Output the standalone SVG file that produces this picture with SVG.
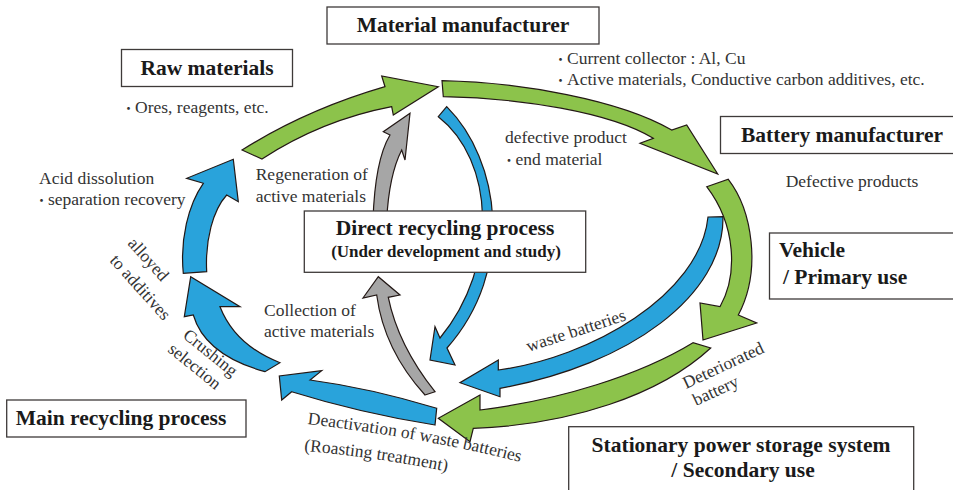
<svg xmlns="http://www.w3.org/2000/svg" width="953" height="490" viewBox="0 0 953 490">
<style>
.box{fill:#fff;stroke:#3e3a39;stroke-width:1.3}
.b{font-family:"Liberation Serif",serif;font-weight:bold;font-size:21.5px;fill:#1a1a1a}
.b2{font-family:"Liberation Serif",serif;font-weight:bold;font-size:17px;fill:#1a1a1a}
.t{font-family:"Liberation Serif","Noto Sans CJK JP",serif;font-size:17.5px;fill:#333}
.dot{font-family:"Noto Sans CJK JP","Liberation Serif",sans-serif;font-size:13px}
.ar{stroke:#231815;stroke-width:1.2;stroke-linejoin:miter}
.g{fill:#8cc34b}
.bl{fill:#29a3db}
.gr{fill:#a6a6a6}
</style>
<rect width="953" height="490" fill="#fff"/>
<defs>
<path id="p-deact" d="M307,424 Q428,438.5 520,462"/>
<path id="p-roast" d="M304,451 Q376,457 447,471.5"/>
</defs>
<g id="connectors">
<path id="arrow-raw-to-material" class="ar g" d="M242,150 Q306.5,109.5 385,86.7 L381.7,76 L438.3,86.7 L393.3,115 L391.7,106.7 Q322,120 262,159 Z"/>
<path id="arrow-material-to-battery" class="ar g" d="M442,80.7 C520,82 620,100 671.7,130 L686.7,125 L717.7,174 L640,143.3 L653.3,138.3 C610,112 520,98 443.3,96.7 Z"/>
<path id="arrow-waste-batteries" class="ar bl" d="M708,217 L723,216.7 C724,295 630,365 500,388.3 L500,396.7 L460,382.7 L498.3,360 L498.3,370 C590,358 700,295 708,217 Z"/>
<path id="arrow-battery-to-vehicle" class="ar g" d="M706.7,186.7 L728.3,179.3 C752,210 762,270 738.3,315 L756.7,323 L703,340 L700,303 L720,306.7 C738,275 736,225 706.7,186.7 Z"/>
<path id="arrow-stationary-to-main" class="ar g" d="M693,342.7 C640,375 560,400 480,410 L480,395 L438.3,418.3 L470,441.7 L473.3,428.3 C570,425 660,395 710.7,348 Z"/>
<path id="arrow-deactivation" class="ar bl" d="M436.7,408.3 Q370,388 310,380 L321.7,370.7 L279.3,376 L281.7,400 L291.7,391.7 Q360,413 435,425 Z"/>
<path id="arrow-crushing" class="ar bl" d="M265,371.7 Q205,355 193.3,315 L184.3,316.7 L190.7,276.7 L240,306.7 L220,306.7 Q235,345 280,362.7 Z"/>
<path id="arrow-acid" class="ar bl" d="M183.3,273.3 C180,240 188,205 203.3,183.3 L186.7,178.3 L233.3,159.3 L238.3,201.7 L226.7,195 C213,210 205,240 206.7,271.7 Z"/>
<path id="arrow-defective" class="ar bl" d="M438.3,116.7 L446.7,106.7 C500,160 516,270 447,348 L455,365 L430,360 L435,326.7 L440,338 C500,265 494,160 438.3,116.7 Z"/>
<path id="arrow-regeneration" class="ar gr" d="M373,220 Q375,160 390,135 L383.3,131.7 L410,113.3 L405,160 L401.7,150 Q389,175 386.7,220 Z"/>
<path id="arrow-collection" class="ar gr" d="M425,395 L435,391.7 Q398,345 388.3,297.3 L400,295 L378.3,276.7 L363,298 L376.7,295 Q384,350 425,395 Z"/>
</g>
<g id="node-material">
<rect class="box" x="327" y="7" width="272" height="37"/>
<text class="b" x="463" y="32" text-anchor="middle">Material manufacturer</text>
</g>
<g id="node-raw">
<rect class="box" x="121.5" y="49.5" width="171" height="37"/>
<text class="b" x="207" y="75" text-anchor="middle">Raw materials</text>
</g>
<g id="node-battery">
<rect class="box" x="720.5" y="116.5" width="240" height="37"/>
<text class="b" x="842" y="142" text-anchor="middle">Battery manufacturer</text>
</g>
<g id="node-vehicle">
<rect class="box" x="769.5" y="233" width="190" height="66"/>
<text class="b" x="779" y="257">Vehicle</text>
<text class="b" x="783" y="284">/ Primary use</text>
</g>
<g id="node-stationary">
<rect class="box" x="568.7" y="426.7" width="345" height="70"/>
<text class="b" x="741" y="452" text-anchor="middle">Stationary power storage system</text>
<text class="b" x="743" y="477" text-anchor="middle">/ Secondary use</text>
</g>
<g id="node-main">
<rect class="box" x="6.7" y="400" width="239.3" height="37"/>
<text class="b" x="15.7" y="425">Main recycling process</text>
</g>
<g id="node-direct">
<rect class="box" x="304.3" y="211" width="281.4" height="61.3"/>
<text class="b" x="445" y="235" text-anchor="middle">Direct recycling process</text>
<text class="b2" x="446" y="257" text-anchor="middle">(Under development and study)</text>
</g>
<g id="labels">
<text class="t" x="122" y="113"><tspan class="dot">・</tspan>Ores, reagents, etc.</text>
<text class="t" x="39" y="184">Acid dissolution</text>
<text class="t" x="35" y="205"><tspan class="dot">・</tspan>separation recovery</text>
<text class="t" x="255.7" y="180">Regeneration of</text>
<text class="t" x="255.7" y="202">active materials</text>
<text class="t" x="554" y="64"><tspan class="dot">・</tspan>Current collector : Al, Cu</text>
<text class="t" x="554" y="85"><tspan class="dot">・</tspan>Active materials, Conductive carbon additives, etc.</text>
<text class="t" x="505" y="143">defective product</text>
<text class="t" x="502.5" y="165"><tspan class="dot">・</tspan>end material</text>
<text class="t" x="785.7" y="187">Defective products</text>
<text class="t" x="264" y="316">Collection of</text>
<text class="t" x="264" y="337">active materials</text>
<text class="t" transform="translate(528.5,352) rotate(-18)">waste batteries</text>
<text class="t" transform="translate(686,389) rotate(-25)">Deteriorated</text>
<text class="t" transform="translate(696,406) rotate(-25)">battery</text>
<text class="t"><textPath href="#p-deact">Deactivation of waste batteries</textPath></text>
<text class="t"><textPath href="#p-roast">(Roasting treatment)</textPath></text>
<text class="t" transform="translate(127,244) rotate(48)">alloyed</text>
<text class="t" transform="translate(109,261) rotate(48)">to additives</text>
<text class="t" transform="translate(182,337) rotate(39)">Crushing</text>
<text class="t" transform="translate(167,351) rotate(39)">selection</text>
</g>
</svg>
